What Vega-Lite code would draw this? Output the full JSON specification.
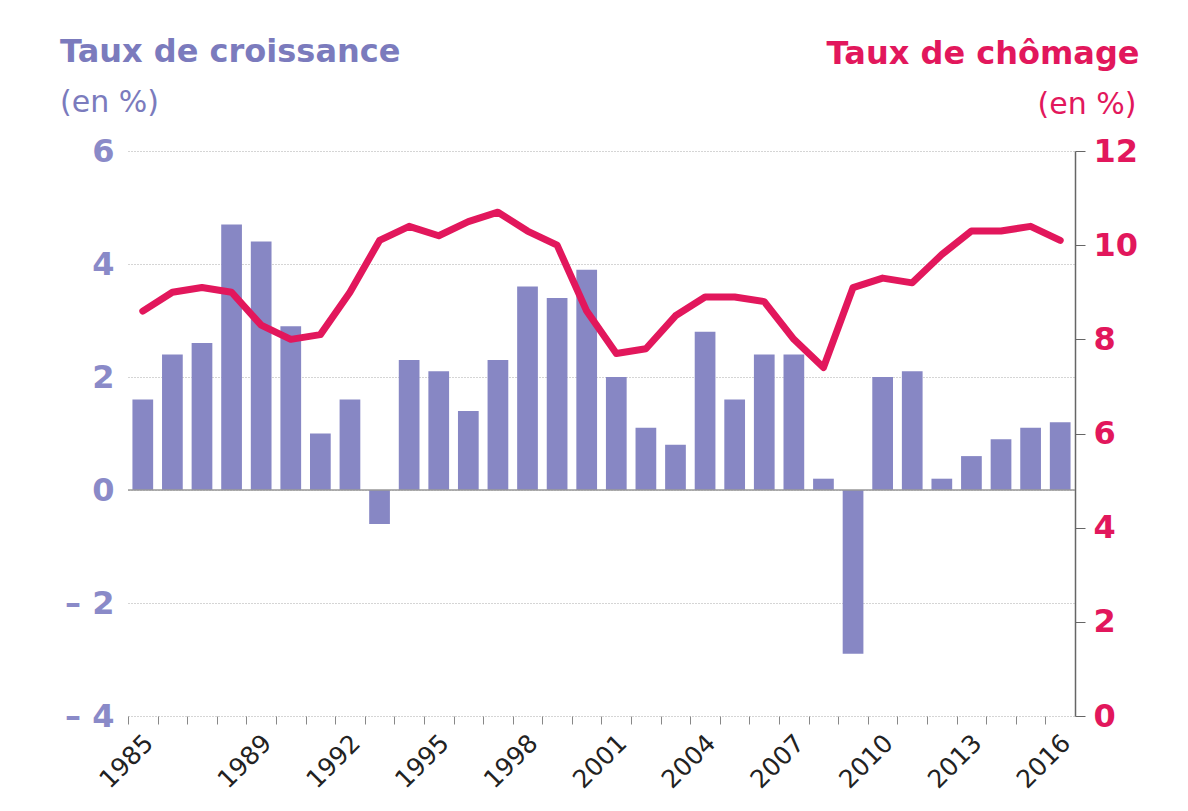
{
  "$schema": "https://vega.github.io/schema/vega-lite/v6.json",
  "width": 947,
  "height": 565,
  "autosize": {"type": "none"},
  "padding": {"left": 128, "top": 151, "right": 113, "bottom": 95},
  "background": "white",
  "title": {
    "text": "Taux de croissance",
    "subtitle": "(en %)",
    "anchor": "start",
    "frame": "group",
    "dx": -68,
    "dy": 120,
    "offset": 38,
    "font": "DejaVu Sans",
    "fontSize": 32,
    "fontWeight": "bold",
    "color": "#7b7bbd",
    "subtitleFont": "DejaVu Sans",
    "subtitleFontSize": 30,
    "subtitleColor": "#7b7bbd",
    "subtitleFontWeight": "normal",
    "subtitlePadding": 19
  },
  "config": {
    "view": {"stroke": null},
    "axis": {"labelFont": "DejaVu Sans", "titleFont": "DejaVu Sans"}
  },
  "data": {
    "values": [
      {"annee": 1985, "croissance": 1.6, "chomage": 8.6},
      {"annee": 1986, "croissance": 2.4, "chomage": 9.0},
      {"annee": 1987, "croissance": 2.6, "chomage": 9.1},
      {"annee": 1988, "croissance": 4.7, "chomage": 9.0},
      {"annee": 1989, "croissance": 4.4, "chomage": 8.3},
      {"annee": 1990, "croissance": 2.9, "chomage": 8.0},
      {"annee": 1991, "croissance": 1.0, "chomage": 8.1},
      {"annee": 1992, "croissance": 1.6, "chomage": 9.0},
      {"annee": 1993, "croissance": -0.6, "chomage": 10.1},
      {"annee": 1994, "croissance": 2.3, "chomage": 10.4},
      {"annee": 1995, "croissance": 2.1, "chomage": 10.2},
      {"annee": 1996, "croissance": 1.4, "chomage": 10.5},
      {"annee": 1997, "croissance": 2.3, "chomage": 10.7},
      {"annee": 1998, "croissance": 3.6, "chomage": 10.3},
      {"annee": 1999, "croissance": 3.4, "chomage": 10.0},
      {"annee": 2000, "croissance": 3.9, "chomage": 8.6},
      {"annee": 2001, "croissance": 2.0, "chomage": 7.7},
      {"annee": 2002, "croissance": 1.1, "chomage": 7.8},
      {"annee": 2003, "croissance": 0.8, "chomage": 8.5},
      {"annee": 2004, "croissance": 2.8, "chomage": 8.9},
      {"annee": 2005, "croissance": 1.6, "chomage": 8.9},
      {"annee": 2006, "croissance": 2.4, "chomage": 8.8},
      {"annee": 2007, "croissance": 2.4, "chomage": 8.0},
      {"annee": 2008, "croissance": 0.2, "chomage": 7.4},
      {"annee": 2009, "croissance": -2.9, "chomage": 9.1},
      {"annee": 2010, "croissance": 2.0, "chomage": 9.3},
      {"annee": 2011, "croissance": 2.1, "chomage": 9.2},
      {"annee": 2012, "croissance": 0.2, "chomage": 9.8},
      {"annee": 2013, "croissance": 0.6, "chomage": 10.3},
      {"annee": 2014, "croissance": 0.9, "chomage": 10.3},
      {"annee": 2015, "croissance": 1.1, "chomage": 10.4},
      {"annee": 2016, "croissance": 1.2, "chomage": 10.1}
    ]
  },
  "layer": [
    {
      "mark": {"type": "bar", "color": "#8787c4"},
      "encoding": {
        "x": {
          "field": "annee",
          "type": "ordinal",
          "scale": {"paddingInner": 0.3, "paddingOuter": 0.15},
          "axis": {
            "title": "(en %)",
            "titleX": 1008,
            "titleY": -603,
            "titleAlign": "right",
            "titleBaseline": "alphabetic",
            "titleFontSize": 30,
            "titleFontWeight": "normal",
            "titleColor": "#e2175c",
            "titleAngle": 0,
            "domain": false,
            "ticks": true,
            "tickColor": "#888888",
            "tickSize": 8,
            "tickOffset": -14.8,
            "labelAngle": -45,
            "labelAlign": "right",
            "labelBaseline": "top",
            "labelFontSize": 25,
            "labelColor": "#222222",
            "labelOffset": 12,
            "labelPadding": 6,
            "labelOverlap": false,
            "labelBound": false,
            "labelExpr": "indexof(['1985','1989','1992','1995','1998','2001','2004','2007','2010','2013','2016'], datum.label) >= 0 ? datum.label : ''"
          }
        },
        "y": {
          "field": "croissance",
          "type": "quantitative",
          "scale": {"domain": [-4, 6], "nice": false},
          "axis": {
            "orient": "left",
            "title": null,
            "values": [-4, -2, 0, 2, 4, 6],
            "domain": false,
            "ticks": false,
            "grid": true,
            "gridColor": "#aaaaaa",
            "gridDash": [1, 2],
            "gridWidth": 1,
            "labelFontSize": 32,
            "labelFontWeight": "bold",
            "labelColor": "#8a8ac8",
            "labelPadding": 14,
            "labelExpr": "datum.value < 0 ? '– ' + abs(datum.value) : datum.label"
          }
        }
      }
    },
    {
      "data": {"values": [{"zero": 0}]},
      "mark": {"type": "rule", "color": "#999999", "strokeWidth": 1.5},
      "encoding": {
        "y": {
          "field": "zero",
          "type": "quantitative",
          "scale": {"domain": [-4, 6], "nice": false},
          "axis": null
        }
      }
    },
    {
      "mark": {"type": "line", "color": "#e2175c", "strokeWidth": 7, "strokeJoin": "round", "strokeCap": "round"},
      "encoding": {
        "x": {"field": "annee", "type": "ordinal"},
        "y": {
          "field": "chomage",
          "type": "quantitative",
          "scale": {"domain": [0, 12], "nice": false},
          "axis": {
            "orient": "right",
            "title": "Taux de chômage",
            "titleAngle": 0,
            "titleAlign": "right",
            "titleBaseline": "alphabetic",
            "titleX": 64,
            "titleY": -88,
            "titleFontSize": 32,
            "titleFontWeight": "bold",
            "titleColor": "#e2175c",
            "values": [0, 2, 4, 6, 8, 10, 12],
            "grid": false,
            "domain": true,
            "domainColor": "#666666",
            "domainWidth": 1.5,
            "ticks": true,
            "tickColor": "#666666",
            "tickSize": 10,
            "labelFontSize": 32,
            "labelFontWeight": "bold",
            "labelColor": "#e2175c",
            "labelPadding": 8
          }
        }
      }
    }
  ],
  "resolve": {"scale": {"y": "independent"}}
}
